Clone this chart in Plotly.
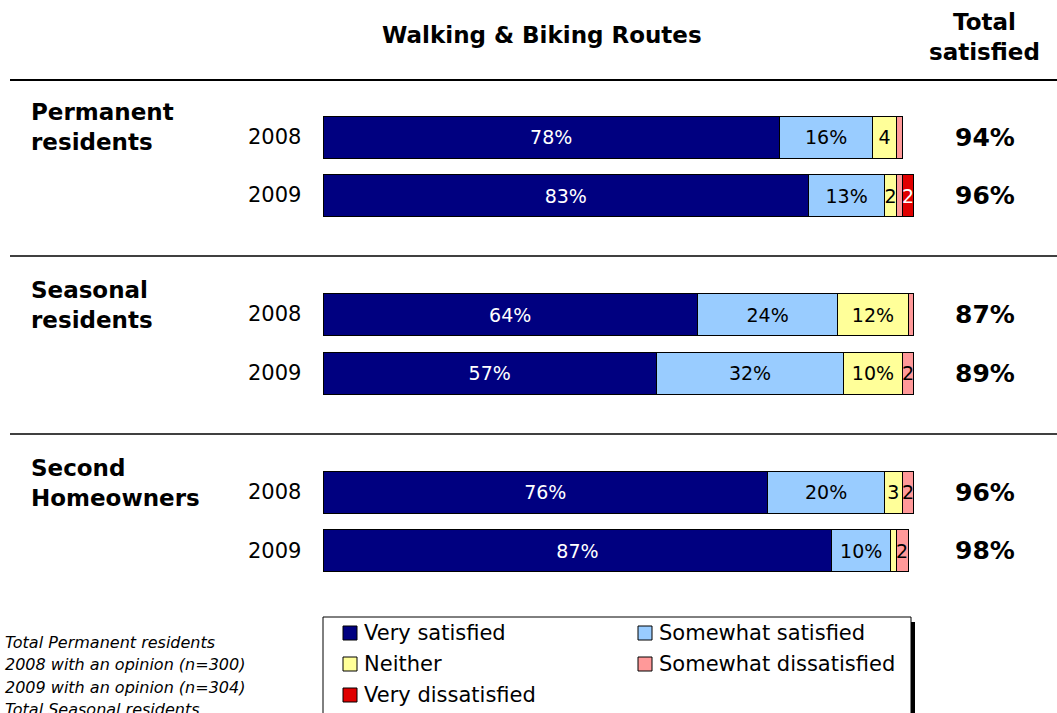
import plotly.graph_objects as go

# ---------------- data ----------------
groups = ["Permanent<br>residents", "Seasonal<br>residents", "Second<br>Homeowners"]
years = ["2008", "2009"]
series_names = ["Very satisfied", "Somewhat satisfied", "Neither",
                "Somewhat dissatisfied", "Very dissatisfied"]
# rows: Perm 2008, Perm 2009, Seas 2008, Seas 2009, Second 2008, Second 2009
very_satisfied = [78, 83, 64, 57, 76, 87]
somewhat_satisfied = [16, 13, 24, 32, 20, 10]
neither = [4, 2, 12, 10, 3, 1]
somewhat_dissatisfied = [1, 1, 1, 2, 2, 2]
very_dissatisfied = [0, 2, 0, 0, 0, 0]
total_satisfied = [94, 96, 87, 89, 96, 98]
footnotes = ["Total Permanent residents", "2008 with an opinion (n=300)",
             "2009 with an opinion (n=304)", "Total Seasonal residents"]

# ---------------- style ----------------
colors = ["#000080", "#99CCFF", "#FFFF99", "#FF9999", "#E00000"]
text_colors = ["white", "black", "black", "black", "white"]
FONT = "DejaVu Sans"
W, H = 1057, 713
PX_PER_PCT = 5.85
X0 = 323
ROW0, GROUP_STEP, ROW_STEP, BAR_H = 137, 177.5, 58.5, 42


def px(x):
    return x / W


def py(y):
    return 1 - y / H


n_rows = len(very_satisfied)
ypos = [ROW0 + (i // 2) * GROUP_STEP + (i % 2) * ROW_STEP for i in range(n_rows)]


def label(v):
    if v < 2:
        return ""
    return f"{v}%" if v >= 10 else str(v)


fig = go.Figure()
all_series = [very_satisfied, somewhat_satisfied, neither,
              somewhat_dissatisfied, very_dissatisfied]
for name, vals, c, tc in zip(series_names, all_series, colors, text_colors):
    fig.add_trace(go.Bar(
        name=name, x=vals, y=ypos, orientation="h", width=BAR_H,
        marker=dict(color=c, line=dict(color="black", width=1)),
        text=[label(v) for v in vals], textposition="inside",
        insidetextanchor="middle", textangle=0,
        insidetextfont=dict(family=FONT, size=19, color=tc),
        showlegend=False, hoverinfo="skip",
    ))

ann = []
shapes = []
# title
ann.append(dict(x=px(542), y=py(35), text="<b>Walking & Biking Routes</b>",
                font=dict(family=FONT, size=23, color="black")))
ann.append(dict(x=px(984), y=py(37), text="<b>Total<br>satisfied</b>",
                font=dict(family=FONT, size=23, color="black")))
# separator lines
for yy, wd in [(80, 2), (256, 1.5), (434, 1.5)]:
    shapes.append(dict(type="line", xref="paper", yref="paper",
                       x0=px(10), x1=1, y0=py(yy), y1=py(yy),
                       line=dict(color="black", width=wd)))
# group labels
for g, name in enumerate(groups):
    yc = ypos[2 * g] - 9.5
    ann.append(dict(x=px(29), y=py(yc), text=f"<b>{name}</b>", xanchor="left",
                    align="left", font=dict(family=FONT, size=23, color="black")))
# years and totals
for i in range(n_rows):
    ann.append(dict(x=px(303), y=py(ypos[i]), text=years[i % 2], xanchor="right",
                    font=dict(family=FONT, size=21, color="black")))
    ann.append(dict(x=px(985), y=py(ypos[i]), text=f"<b>{total_satisfied[i]}%</b>",
                    font=dict(family=FONT, size=25, color="black")))
# footnotes
for k, t in enumerate(footnotes):
    ann.append(dict(x=px(3), y=py(642 + k * 22.5), text=f"<i>{t}</i>", xanchor="left",
                    font=dict(family=FONT, size=16, color="black")))
# legend box
shapes.append(dict(type="rect", xref="paper", yref="paper", x0=px(911), x1=px(915),
                   y0=py(715), y1=py(622), fillcolor="black", line=dict(width=0)))
shapes.append(dict(type="rect", xref="paper", yref="paper", x0=px(323), x1=px(911),
                   y0=py(720), y1=py(617), fillcolor="white",
                   line=dict(color="black", width=1)))
leg_pos = [(343, 633), (638, 633), (343, 664), (638, 664), (343, 695)]
for (lx, ly), name, c in zip(leg_pos, series_names, colors):
    shapes.append(dict(type="rect", xref="paper", yref="paper", x0=px(lx), x1=px(lx + 14),
                       y0=py(ly + 7), y1=py(ly - 7), fillcolor=c,
                       line=dict(color="black", width=1)))
    ann.append(dict(x=px(lx + 19), y=py(ly), text=name, xanchor="left",
                    font=dict(family=FONT, size=21, color="black")))

for a in ann:
    a.update(xref="paper", yref="paper", showarrow=False, yanchor="middle")
    a.setdefault("xanchor", "center")

fig.update_layout(
    barmode="stack", width=W, height=H,
    margin=dict(l=0, r=0, t=0, b=0),
    paper_bgcolor="white", plot_bgcolor="white",
    xaxis=dict(range=[-X0 / PX_PER_PCT, (W - X0) / PX_PER_PCT], visible=False, fixedrange=True),
    yaxis=dict(range=[H, 0], visible=False, fixedrange=True),
    uniformtext=dict(minsize=19, mode="show"),
    annotations=ann, shapes=shapes, showlegend=False,
)
fig.write_html("out.html", config={"displayModeBar": False},
               post_script="document.body.style.margin='0';")
